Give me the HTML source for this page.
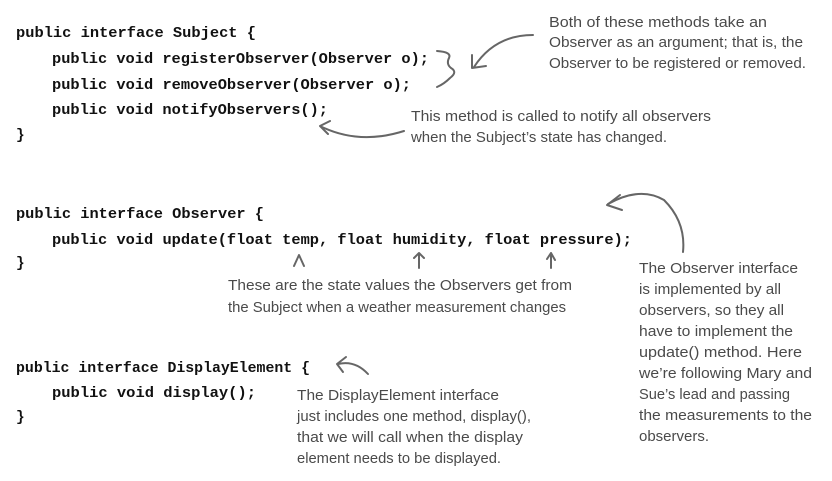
<!DOCTYPE html>
<html><head><meta charset="utf-8"><style>
html,body{margin:0;padding:0;background:#fff;}
svg{display:block}
.c{font-family:"Liberation Mono",monospace;font-weight:bold;font-size:14.5px;fill:#111}
.h{font-family:"Liberation Sans",sans-serif;font-size:15px;fill:#4a4a4a}
.a{fill:none;stroke:#666;stroke-width:2;stroke-linecap:round;stroke-linejoin:round}
</style></head><body>
<svg width="832" height="481" viewBox="0 0 832 481" xmlns="http://www.w3.org/2000/svg">
<text class="c" x="16" y="37" textLength="240" lengthAdjust="spacingAndGlyphs">public interface Subject {</text>
<text class="c" x="52" y="63" textLength="377" lengthAdjust="spacingAndGlyphs">public void registerObserver(Observer o);</text>
<text class="c" x="52" y="89" textLength="359" lengthAdjust="spacingAndGlyphs">public void removeObserver(Observer o);</text>
<text class="c" x="52" y="114" textLength="276" lengthAdjust="spacingAndGlyphs">public void notifyObservers();</text>
<text class="c" x="16" y="139">}</text>

<text class="c" x="16" y="218" textLength="248" lengthAdjust="spacingAndGlyphs">public interface Observer {</text>
<text class="c" x="52" y="244" textLength="580" lengthAdjust="spacingAndGlyphs">public void update(float temp, float humidity, float pressure);</text>
<text class="c" x="16" y="267">}</text>

<text class="c" x="16" y="372" textLength="294" lengthAdjust="spacingAndGlyphs">public interface DisplayElement {</text>
<text class="c" x="52" y="397" textLength="204" lengthAdjust="spacingAndGlyphs">public void display();</text>
<text class="c" x="16" y="421">}</text>

<text class="h" x="549" y="27" textLength="218" lengthAdjust="spacingAndGlyphs">Both of these methods take an</text>
<text class="h" x="549" y="47" textLength="254" lengthAdjust="spacingAndGlyphs">Observer as an argument; that is, the</text>
<text class="h" x="549" y="68" textLength="257" lengthAdjust="spacingAndGlyphs">Observer to be registered or removed.</text>

<text class="h" x="411" y="121" textLength="300" lengthAdjust="spacingAndGlyphs">This method is called to notify all observers</text>
<text class="h" x="411" y="142" textLength="256" lengthAdjust="spacingAndGlyphs">when the Subject’s state has changed.</text>

<text class="h" x="228" y="290" textLength="344" lengthAdjust="spacingAndGlyphs">These are the state values the Observers get from</text>
<text class="h" x="228" y="312" textLength="338" lengthAdjust="spacingAndGlyphs">the Subject when a weather measurement changes</text>

<g class="h">
<text x="639" y="273" textLength="159" lengthAdjust="spacingAndGlyphs">The Observer interface</text>
<text x="639" y="294" textLength="142" lengthAdjust="spacingAndGlyphs">is implemented by all</text>
<text x="639" y="315" textLength="145" lengthAdjust="spacingAndGlyphs">observers, so they all</text>
<text x="639" y="336" textLength="154" lengthAdjust="spacingAndGlyphs">have to implement the</text>
<text x="639" y="357" textLength="163" lengthAdjust="spacingAndGlyphs">update() method.  Here</text>
<text x="639" y="378" textLength="173" lengthAdjust="spacingAndGlyphs">we’re following Mary and</text>
<text x="639" y="399" textLength="151" lengthAdjust="spacingAndGlyphs">Sue’s lead and passing</text>
<text x="639" y="420" textLength="173" lengthAdjust="spacingAndGlyphs">the measurements to the</text>
<text x="639" y="441" textLength="70" lengthAdjust="spacingAndGlyphs">observers.</text>
</g>

<g class="h">
<text x="297" y="400" textLength="202" lengthAdjust="spacingAndGlyphs">The DisplayElement interface</text>
<text x="297" y="421" textLength="234" lengthAdjust="spacingAndGlyphs">just includes one method, display(),</text>
<text x="297" y="442" textLength="226" lengthAdjust="spacingAndGlyphs">that we will call when the display</text>
<text x="297" y="463" textLength="204" lengthAdjust="spacingAndGlyphs">element needs to be displayed.</text>
</g>

<!-- brace -->
<path class="a" d="M437 51 Q452 52 449 58 Q446 64 451 68 Q458 72 450 78 Q444 84 437 87"/>
<!-- arrow to brace -->
<path class="a" d="M533 35 Q495 35 474 67"/>
<path class="a" d="M472 55 L472 68 L486 66"/>
<!-- notify arrow -->
<path class="a" d="M404 131 Q360 145 322 127"/>
<path class="a" d="M330 121 L320 126 L328 134"/>
<!-- observer arrow -->
<path class="a" d="M683 252 Q686 222 664 200 Q640 186 608 204"/>
<path class="a" d="M620 195 L607 205 L622 210"/>
<!-- up arrows -->
<path class="a" d="M294 266 L299 255 L304 266"/>
<path class="a" d="M419 253 L419 268 M414 258 L419 253 L424 258"/>
<path class="a" d="M551 253 L551 268 M547 259 L551 253 L555 260"/>
<!-- display arrow -->
<path class="a" d="M338 364 Q355 360 368 374"/>
<path class="a" d="M346 357 L337 364 L343 372"/>
</svg>
</body></html>
